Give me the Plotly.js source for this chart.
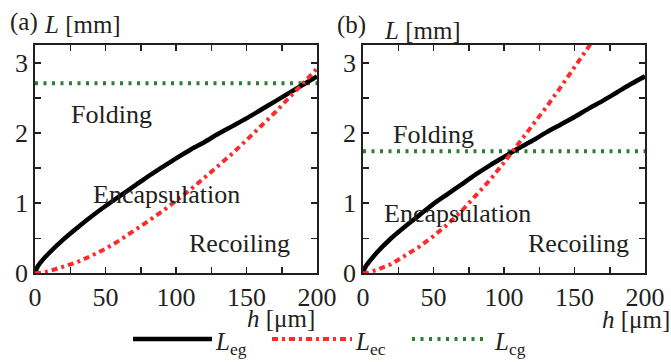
<!DOCTYPE html>
<html>
<head>
<meta charset="utf-8">
<script src="https://cdn.plot.ly/plotly-3.0.1.min.js"></script>
<style>html,body{margin:0;padding:0;background:#fff;}#chart{width:671px;height:362px;}</style>
</head>
<body>
<div id="chart"></div>
<script>
// ---- data ----
const h = [0, 1, 2, 5, 10, 20, 30, 40, 50, 60, 70, 80, 90, 100, 110, 120, 130, 140, 150, 160, 170, 180, 190, 200];
const Leg_a = [0, 0.06, 0.10, 0.18, 0.29, 0.48, 0.65, 0.81, 0.96, 1.10, 1.24, 1.38, 1.51, 1.64, 1.76, 1.87, 1.99, 2.10, 2.21, 2.33, 2.45, 2.57, 2.69, 2.81];
const Lec_a = [0, 0.00, 0.00, 0.01, 0.03, 0.09, 0.16, 0.25, 0.35, 0.47, 0.60, 0.74, 0.88, 1.03, 1.19, 1.36, 1.53, 1.71, 1.90, 2.09, 2.29, 2.50, 2.71, 2.92];
const Leg_b = [0, 0.06, 0.10, 0.18, 0.30, 0.50, 0.67, 0.83, 0.99, 1.13, 1.27, 1.41, 1.54, 1.66, 1.78, 1.89, 2.01, 2.12, 2.23, 2.35, 2.46, 2.58, 2.70, 2.81];
const Lec_b = [0, 0.00, 0.00, 0.02, 0.05, 0.13, 0.25, 0.38, 0.53, 0.70, 0.89, 1.10, 1.33, 1.58, 1.84, 2.10, 2.37, 2.65, 2.94, 3.23, 3.52, null, null, null];
const hCg = [0, 200];
const Lcg_a = [2.71, 2.71];
const Lcg_b = [1.74, 1.74];
const xTicks = [0, 25, 50, 75, 100, 125, 150, 175, 200];
const xTickText = ['0', '', '50', '', '100', '', '150', '', '200'];
const yTicks = [0, 0.5, 1, 1.5, 2, 2.5, 3];
const yTickText = ['0', '', '1', '', '2', '', '3'];
const regionLabels = ['Folding', 'Encapsulation', 'Recoiling'];
const regionPos_a = [[54, 2.26], [93, 1.12], [145, 0.43]];
const regionPos_b = [[50, 1.98], [67, 0.85], [153, 0.42]];

// ---- styles ----
const FONT = '"Liberation Serif", "Times New Roman", Times, serif';
const INK = '#231f20';
const sBlack = {color: '#000000', width: 4.5, shape: 'spline', smoothing: 0.8};
const sRed = {color: '#ff2a2a', width: 4, dash: '6px,4px,3px,4px'};
const sGreen = {color: '#2e7d32', width: 4, dash: '3px,5.5px'};

const W = 671, H = 362;
const px = x => x / W;
const py = y => (H - y) / H;

function xa(dom, anchor) {
  return {domain: dom, range: [0, 200], tickvals: xTicks, ticktext: xTickText, anchor: anchor,
    ticks: 'inside', ticklen: 6, tickwidth: 1.5, tickcolor: INK,
    showline: true, linecolor: INK, linewidth: 1.8, mirror: 'ticks',
    showgrid: false, zeroline: false, fixedrange: true,
    tickfont: {family: FONT, size: 26, color: INK}};
}
function ya(dom, anchor) {
  return {domain: dom, range: [0, 3.257], tickvals: yTicks, ticktext: yTickText, anchor: anchor,
    ticks: 'inside', ticklen: 6, tickwidth: 1.5, tickcolor: INK,
    showline: true, linecolor: INK, linewidth: 1.8, mirror: 'ticks',
    showgrid: false, zeroline: false, fixedrange: true,
    tickfont: {family: FONT, size: 26, color: INK}};
}

const traces = [
  {x: hCg, y: Lcg_a, xaxis: 'x', yaxis: 'y', mode: 'lines', line: sGreen},
  {x: h, y: Leg_a, xaxis: 'x', yaxis: 'y', mode: 'lines', line: sBlack},
  {x: h, y: Lec_a, xaxis: 'x', yaxis: 'y', mode: 'lines', line: sRed},
  {x: hCg, y: Lcg_b, xaxis: 'x2', yaxis: 'y2', mode: 'lines', line: sGreen},
  {x: h, y: Leg_b, xaxis: 'x2', yaxis: 'y2', mode: 'lines', line: sBlack},
  {x: h, y: Lec_b, xaxis: 'x2', yaxis: 'y2', mode: 'lines', line: sRed}
];
traces.forEach(t => { t.showlegend = false; t.hoverinfo = 'skip'; });

const ann = [];
const tf = {family: FONT, size: 26, color: INK};
regionLabels.forEach((t, i) => {
  ann.push({text: t, x: regionPos_a[i][0], y: regionPos_a[i][1], xref: 'x', yref: 'y', showarrow: false, font: tf, xanchor: 'center', yanchor: 'middle'});
  ann.push({text: t, x: regionPos_b[i][0], y: regionPos_b[i][1], xref: 'x2', yref: 'y2', showarrow: false, font: tf, xanchor: 'center', yanchor: 'middle'});
});
const lf = {family: FONT, size: 25, color: INK};
function pa(text, x, y, xanchor) {
  ann.push({text: text, x: px(x), y: py(y), xref: 'paper', yref: 'paper', showarrow: false, font: lf, xanchor: xanchor, yanchor: 'middle'});
}
pa('(a)', 8, 22, 'left');
pa('<i>L</i> [mm]', 42, 25, 'left');
pa('(b)', 335, 25, 'left');
pa('<i>L</i> [mm]', 382, 31, 'left');
pa('<i>h</i> [μm]', 317, 318, 'right');
pa('<i>h</i> [μm]', 672, 319, 'right');
pa('<i>L</i><sub>eg</sub>', 213, 343, 'left');
pa('<i>L</i><sub>ec</sub>', 353, 343, 'left');
pa('<i>L</i><sub>cg</sub>', 492, 343, 'left');

const LY = py(339);
function seg(x0, x1, st) {
  return {type: 'line', xref: 'paper', yref: 'paper', x0: px(x0), x1: px(x1), y0: LY, y1: LY,
    line: {color: st.color, width: st.width, dash: st.dash || 'solid'}};
}
const shapes = [seg(133, 212, sBlack), seg(272, 352, sRed), seg(412, 488, sGreen)];

const layout = {
  width: W, height: H, margin: {l: 0, r: 0, t: 0, b: 0},
  paper_bgcolor: '#ffffff', plot_bgcolor: '#ffffff',
  showlegend: false,
  xaxis: xa([px(35), px(317)], 'y'),
  yaxis: ya([py(273.3), py(45)], 'x'),
  xaxis2: xa([px(363), px(645)], 'y2'),
  yaxis2: ya([py(273.3), py(45)], 'x2'),
  annotations: ann, shapes: shapes,
  font: {family: FONT, color: INK}
};

Plotly.newPlot('chart', traces, layout, {staticPlot: true, displayModeBar: false});
</script>
</body>
</html>
